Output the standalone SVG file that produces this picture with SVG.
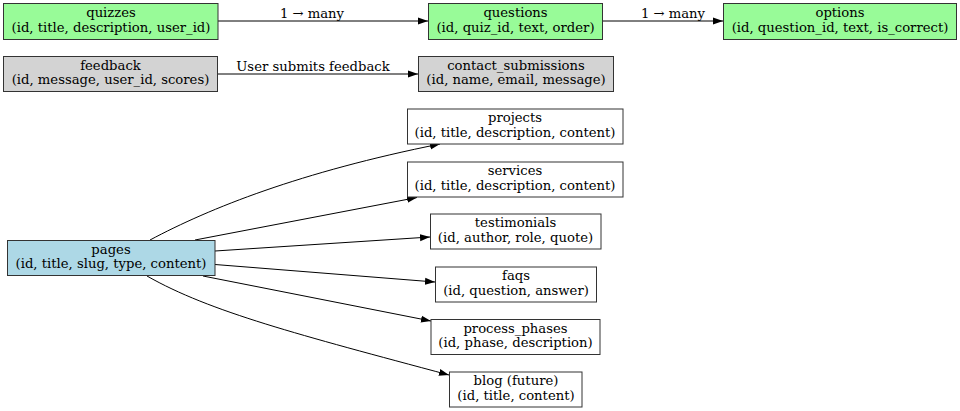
<svg xmlns="http://www.w3.org/2000/svg" width="960" height="411" viewBox="0 0 960 411">
<defs>
<marker id="ah" markerWidth="10" markerHeight="8" refX="10" refY="4" orient="auto" markerUnits="userSpaceOnUse">
<path d="M0,0.5 L10,4 L0,7.5 Z" fill="#000"/>
</marker>
<style>
.n rect{stroke:#333;stroke-width:1}
.g rect{fill:#98fb98}
.gr rect{fill:#d3d3d3}
.b rect{fill:#add8e6}
.w rect{fill:#fff}
text{font-family:"DejaVu Serif",serif;font-size:13.2px;fill:#000;text-anchor:middle}
.e path{fill:none;stroke:#000;stroke-width:1;marker-end:url(#ah)}
</style>
</defs>
<rect width="960" height="411" fill="#fff"/>
<g class="e" id="connectors">
<path d="M218,21 L428,21"/>
<path d="M603,21 L723,21"/>
<path d="M218,74 L418,74"/>
<path d="M150,240 C210,208 300,172 440,144"/>
<path d="M195,240 L417,197.5"/>
<path d="M215,251 L430,237"/>
<path d="M215,264.5 L435,282"/>
<path d="M203,276 L431,321"/>
<path d="M147,276 C210,312 300,335 449,375"/>
<text x="312" y="18">1 → many</text>
<text x="673" y="18">1 → many</text>
<text x="313" y="71">User submits feedback</text>
</g>
<g id="quizzes" class="n g"><rect x="3.5" y="3.5" width="214.5" height="36"/><text x="111" y="17">quizzes</text><text x="111" y="31.5">(id, title, description, user_id)</text></g>
<g id="questions" class="n g"><rect x="428.5" y="3.5" width="174" height="36"/><text x="515.5" y="17">questions</text><text x="515.5" y="31.5">(id, quiz_id, text, order)</text></g>
<g id="options" class="n g"><rect x="723.5" y="3.5" width="233" height="36"/><text x="840" y="17">options</text><text x="840" y="31.5">(id, question_id, text, is_correct)</text></g>
<g id="feedback" class="n gr"><rect x="3.5" y="56.5" width="214" height="35"/><text x="110.5" y="69.5">feedback</text><text x="110.5" y="84">(id, message, user_id, scores)</text></g>
<g id="contact_submissions" class="n gr"><rect x="418.5" y="56.5" width="195" height="35"/><text x="516" y="69.5">contact_submissions</text><text x="516" y="84">(id, name, email, message)</text></g>
<g id="pages" class="n b"><rect x="7.5" y="240.5" width="207.5" height="35"/><text x="111" y="253.5">pages</text><text x="111" y="268">(id, title, slug, type, content)</text></g>
<g id="projects" class="n w"><rect x="407.5" y="109" width="215.5" height="35"/><text x="515" y="122">projects</text><text x="515" y="136.5">(id, title, description, content)</text></g>
<g id="services" class="n w"><rect x="407.5" y="162" width="215.5" height="35"/><text x="515" y="175">services</text><text x="515" y="189.5">(id, title, description, content)</text></g>
<g id="testimonials" class="n w"><rect x="430.5" y="214" width="170.5" height="35"/><text x="515.5" y="227">testimonials</text><text x="515.5" y="241.5">(id, author, role, quote)</text></g>
<g id="faqs" class="n w"><rect x="435.5" y="267" width="161" height="35"/><text x="516" y="280">faqs</text><text x="516" y="294.5">(id, question, answer)</text></g>
<g id="process_phases" class="n w"><rect x="431" y="319.5" width="169" height="35"/><text x="515.5" y="332.5">process_phases</text><text x="515.5" y="347">(id, phase, description)</text></g>
<g id="blog" class="n w"><rect x="449.5" y="372" width="132.5" height="35"/><text x="516" y="385">blog (future)</text><text x="516" y="399.5">(id, title, content)</text></g>
</svg>
